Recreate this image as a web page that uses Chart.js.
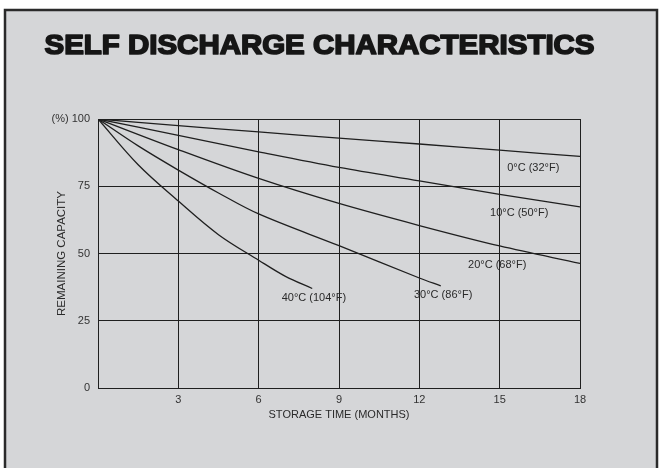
<!DOCTYPE html>
<html lang="en">
<head>
<meta charset="UTF-8">
<title>Self Discharge Characteristics</title>
<script src="https://cdn.jsdelivr.net/npm/chart.js"></script>
<style>
    body { margin: 0; background: #fff; }
    .wrap { position: relative; width: 659px; height: 468px; }
</style>
</head>
<body>
<div class="wrap"><canvas id="chart"></canvas></div>
<script>
// values (months -> remaining capacity %)
const months0C = [0, 3, 6, 9, 12, 15, 18];
const capacity0C = [100, 97.5, 95.2, 92.9, 90.7, 88.4, 86.1];

const months10C = [0, 3, 6, 9, 12, 15, 18];
const capacity10C = [100, 93.9, 87.8, 82, 77, 72, 67.3];

const months20C = [0, 3, 6, 9, 12, 15, 18];
const capacity20C = [100, 88.6, 77.9, 68.6, 60.4, 52.8, 46.3];

const months30C = [0, 1.5, 3, 4.5, 6, 9, 12, 12.8];
const capacity30C = [100, 90, 81, 72.5, 64.7, 52.9, 40.9, 38];

const months40C = [0, 1.5, 3, 4.5, 6, 7, 8];
const capacity40C = [100, 83, 69.5, 57, 47.5, 41.5, 37];

const seriesNames = ['0°C (32°F)', '10°C (50°F)', '20°C (68°F)', '30°C (86°F)', '40°C (104°F)'];
const monthTicks = [0, 3, 6, 9, 12, 15, 18];
const capacityTicks = [0, 25, 50, 75, 100];

const ink = '#1f1f1f';
const font = "'Liberation Sans', Arial, sans-serif";

function points(xs, ys) {
    return xs.map((x, i) => ({ x: x, y: ys[i] }));
}

const allMonths = [months0C, months10C, months20C, months30C, months40C];
const allCapacity = [capacity0C, capacity10C, capacity20C, capacity30C, capacity40C];

// where each curve's name sits (left edge, middle of text)
const labelSpots = [
    { month: 15.28, value: 81.8 },
    { month: 14.64, value: 65.0 },
    { month: 13.82, value: 45.8 },
    { month: 11.8, value: 34.5 },
    { month: 6.86, value: 33.3 }
];

const framePlugin = {
    id: 'frame',
    beforeDraw(chart) {
        const ctx = chart.ctx;
        ctx.save();
        ctx.fillStyle = '#ffffff';
        ctx.fillRect(0, 0, chart.width, chart.height);
        ctx.fillStyle = '#d5d6d8';
        ctx.fillRect(4, 9, 653, chart.height);
        ctx.strokeStyle = '#2a2a2a';
        ctx.lineWidth = 2.5;
        ctx.beginPath();
        ctx.moveTo(5, chart.height + 2);
        ctx.lineTo(5, 10);
        ctx.lineTo(657, 10);
        ctx.lineTo(657, chart.height + 2);
        ctx.stroke();

        // heavy title, stretched to the reference width
        const title = 'SELF DISCHARGE CHARACTERISTICS';
        ctx.font = 'bold 28px ' + font;
        const w = ctx.measureText(title).width;
        ctx.translate(44.5, 53.5);
        ctx.scale(550 / w, 1);
        ctx.fillStyle = '#161616';
        ctx.strokeStyle = '#161616';
        ctx.lineWidth = 1.7;
        ctx.lineJoin = 'round';
        ctx.textBaseline = 'alphabetic';
        ctx.fillText(title, 0, 0);
        ctx.strokeText(title, 0, 0);
        ctx.restore();
    },
    afterDatasetsDraw(chart) {
        const ctx = chart.ctx;
        const xs = chart.scales.x, ys = chart.scales.y;
        ctx.save();
        ctx.font = '11px ' + font;
        ctx.fillStyle = '#2a2a2a';
        ctx.textBaseline = 'middle';
        ctx.textAlign = 'left';
        seriesNames.forEach((name, i) => {
            const s = labelSpots[i];
            ctx.fillText(name, xs.getPixelForValue(s.month), ys.getPixelForValue(s.value));
        });
        ctx.restore();
    }
};

new Chart(document.getElementById('chart'), {
    type: 'line',
    data: {
        datasets: seriesNames.map((name, i) => ({
            label: name,
            data: points(allMonths[i], allCapacity[i]),
            borderColor: ink,
            borderWidth: 1.3,
            pointRadius: 0,
            fill: false,
            tension: 0.35
        }))
    },
    options: {
        responsive: true,
        maintainAspectRatio: false,
        animation: false,
        layout: { padding: { left: 0, top: 119, right: 79, bottom: 0 } },
        plugins: {
            legend: { display: false },
            tooltip: { enabled: false }
        },
        scales: {
            x: {
                type: 'linear',
                min: 0,
                max: 18,
                afterFit: s => { s.height = 80; },
                afterBuildTicks: s => { s.ticks = monthTicks.map(v => ({ value: v })); },
                ticks: {
                    padding: 5,
                    color: '#333',
                    font: { family: font, size: 11 },
                    callback: v => (v === 0 ? '' : v)
                },
                grid: { color: ink, lineWidth: 1, drawTicks: false },
                border: { display: true, color: ink, width: 1 },
                title: {
                    display: true,
                    text: 'STORAGE TIME (MONTHS)',
                    color: '#2a2a2a',
                    font: { family: font, size: 11 },
                    padding: { top: 0, bottom: 46 }
                }
            },
            y: {
                min: 0,
                max: 100,
                afterFit: s => { s.width = 98; },
                afterBuildTicks: s => { s.ticks = capacityTicks.map(v => ({ value: v })); },
                ticks: {
                    padding: 8,
                    color: '#333',
                    font: { family: font, size: 11 },
                    callback: v => (v === 100 ? '(%) 100' : v)
                },
                grid: { color: ink, lineWidth: 1, drawTicks: false },
                border: { display: true, color: ink, width: 1 },
                title: {
                    display: true,
                    text: 'REMAINING CAPACITY',
                    color: '#2a2a2a',
                    font: { family: font, size: 11.5 },
                    padding: { top: 55, bottom: 0 }
                }
            }
        }
    },
    plugins: [framePlugin]
});
</script>
</body>
</html>
